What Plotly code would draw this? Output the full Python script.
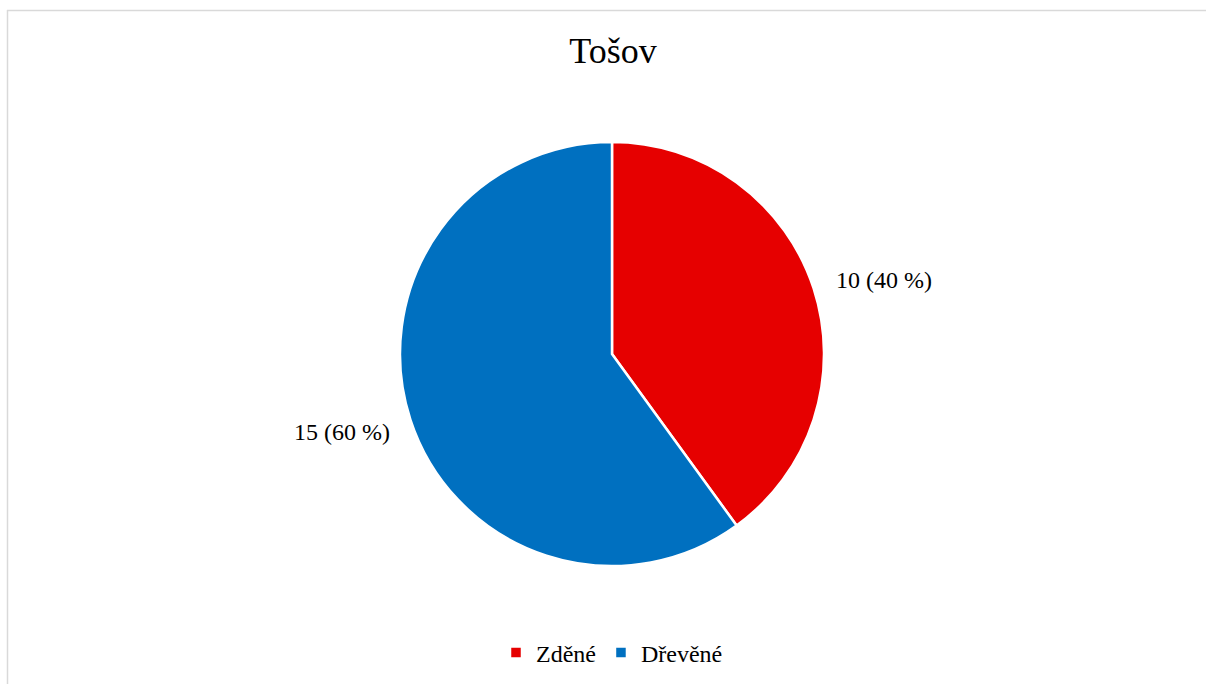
import plotly.graph_objects as go

title_text = "Tošov"
categories = ["Zděné", "Dřevěné"]
values = [10, 15]
colors = ["#E60000", "#0070C0"]

total = sum(values)
texts = [f"{v} ({round(v / total * 100)} %)" for v in values]

W, H = 1206, 684
cx, cy, r = 612, 354, 212

# label anchor positions (pixels) for each slice label
label_pos = [(884, 280), (342, 432)]

fig = go.Figure(go.Pie(
    labels=categories,
    values=values,
    textinfo="none",
    sort=False,
    direction="clockwise",
    rotation=0,
    marker=dict(colors=colors, line=dict(color="white", width=2.5)),
    domain=dict(x=[(cx - r) / W, (cx + r) / W], y=[(H - cy - r) / H, (H - cy + r) / H]),
    hoverinfo="skip",
))

annotations = [
    dict(text=t, x=px / W, y=1 - py / H, xref="paper", yref="paper",
         xanchor="center", yanchor="middle", showarrow=False,
         font=dict(family="Liberation Serif", size=24, color="black"))
    for t, (px, py) in zip(texts, label_pos)
]

fig.update_layout(
    width=W, height=H,
    margin=dict(l=0, r=0, t=0, b=0),
    paper_bgcolor="white",
    title=dict(text=title_text, x=613 / W, xanchor="center", y=1 - 50 / H, yanchor="middle",
               font=dict(family="Liberation Serif", size=36, color="black")),
    legend=dict(orientation="h", x=612 / W, xanchor="center", y=1 - 653 / H, yanchor="middle",
                font=dict(family="Liberation Serif", size=24, color="black"),
                itemwidth=30, tracegroupgap=0),
    font=dict(family="Liberation Serif"),
    annotations=annotations,
    shapes=[
        dict(type="line", xref="paper", yref="paper", x0=7 / W, x1=1.0, y0=1 - 10.5 / H, y1=1 - 10.5 / H,
             line=dict(color="#D9D9D9", width=1.5)),
        dict(type="line", xref="paper", yref="paper", x0=7.5 / W, x1=7.5 / W, y0=0, y1=1 - 10 / H,
             line=dict(color="#D9D9D9", width=1.5)),
    ],
)

fig.write_html("out.html", config={"displayModeBar": False},
               post_script="document.body.style.margin='0';document.body.style.overflow='hidden';")
